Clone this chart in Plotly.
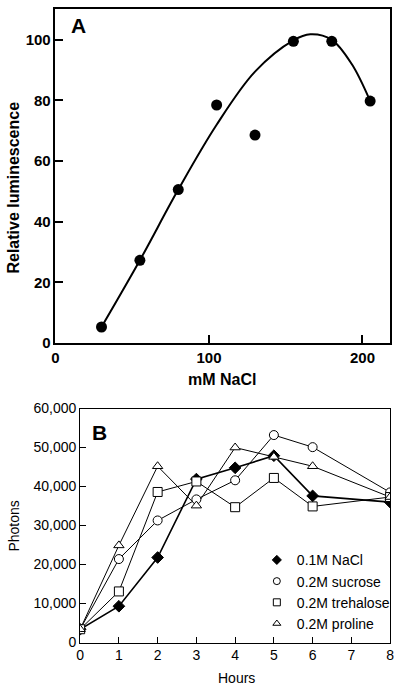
import plotly.graph_objects as go

# Panel A data
nacl_mm = [30, 55, 80, 105, 130, 155, 180, 205]
rel_lum = [5.3, 27.3, 50.6, 78.5, 68.6, 99.5, 99.5, 79.8]
fit_x = [30, 55, 80, 105, 130, 155, 166, 180, 193, 205]
fit_y = [5.3, 27.3, 50.6, 72, 89.5, 99.8, 101.8, 100, 92, 79.8]

# Panel B data
hours = [0, 1, 2, 3, 4, 5, 6, 8]
nacl = [3400, 9300, 21800, 41900, 44800, 47900, 37600, 36000]
sucrose = [3400, 21400, 31300, 36700, 41600, 53200, 50100, 38500]
trehalose = [3400, 13100, 38600, 41300, 34700, 42200, 34900, 37300]
proline = [3400, 24900, 45200, 35100, 50000, 47600, 45200, 37300]

a_xticks = [0, 100, 200]
a_yticks = [0, 20, 40, 60, 80, 100]
b_xticks = [0, 1, 2, 3, 4, 5, 6, 7, 8]
b_yticks = [0, 10000, 20000, 30000, 40000, 50000, 60000]

FONT = "Liberation Sans, Arial, Helvetica, sans-serif"
W, H = 400, 693

fig = go.Figure()

# Panel A
fig.add_trace(go.Scatter(x=fit_x, y=fit_y, mode="lines", line=dict(color="black", width=2, shape="spline", smoothing=1.0),
                         xaxis="x", yaxis="y", showlegend=False, hoverinfo="skip"))
fig.add_trace(go.Scatter(x=nacl_mm, y=rel_lum, mode="markers", marker=dict(color="black", size=11),
                         xaxis="x", yaxis="y", showlegend=False))

# Panel B
series = [
    ("0.1M NaCl", nacl, "diamond", "black"),
    ("0.2M sucrose", sucrose, "circle", "white"),
    ("0.2M trehalose", trehalose, "square", "white"),
    ("0.2M proline", proline, "triangle-up", "white"),
]
for name, vals, sym, fill in series:
    lw = 1.6 if name == "0.1M NaCl" else 1
    fig.add_trace(go.Scatter(x=hours, y=vals, mode="lines", line=dict(color="black", width=lw),
                             xaxis="x2", yaxis="y2", showlegend=False, hoverinfo="skip"))
for name, vals, sym, fill in series:
    fig.add_trace(go.Scatter(x=hours, y=vals, mode="markers", name=name,
                             marker=dict(symbol=sym, size=9, color=fill, line=dict(color="black", width=1)),
                             xaxis="x2", yaxis="y2", showlegend=False))
    fig.add_trace(go.Scatter(x=[None], y=[None], mode="markers", name=name,
                             marker=dict(symbol=sym, size=7, color=fill, line=dict(color="black", width=1)),
                             xaxis="x2", yaxis="y2", showlegend=True))

axA = dict(showgrid=False, zeroline=False, showline=True, linecolor="black", linewidth=1.5, mirror=True,
           ticks="inside", ticklen=8, tickwidth=1.5, tickcolor="black",
           tickfont=dict(family=FONT, size=15, color="black", weight="bold"))
axB = dict(showgrid=False, zeroline=False, showline=True, linecolor="black", linewidth=1, mirror=True,
           ticks="inside", ticklen=6, tickwidth=1, tickcolor="black",
           tickfont=dict(family=FONT, size=14, color="black"))

fig.update_layout(
    width=W, height=H, margin=dict(l=0, r=0, t=0, b=0),
    paper_bgcolor="white", plot_bgcolor="white",
    font=dict(family=FONT, color="black"),
    xaxis=dict(axA, domain=[52.5 / W, 394 / W], range=[0, 218], tickvals=a_xticks, anchor="y"),
    yaxis=dict(axA, domain=[1 - 343 / H, 1 - 1.5 / H], range=[0, 110], tickvals=a_yticks, anchor="x"),
    xaxis2=dict(axB, domain=[77.7 / W, 394 / W], range=[0, 8], tickvals=b_xticks, anchor="y2"),
    yaxis2=dict(axB, domain=[1 - 649.5 / H, 1 - 410 / H], range=[0, 60000], tickvals=b_yticks,
                tickformat=",d", anchor="x2"),
    legend=dict(x=258 / W, y=1 - 549 / H, xanchor="left", yanchor="top", bgcolor="rgba(0,0,0,0)",
                font=dict(family=FONT, size=14, color="black"), tracegroupgap=0, itemwidth=30),
    showlegend=True,
)

ann = [
    dict(text="<b>A</b>", x=76 / W, y=1 - 18 / H, font=dict(size=21)),
    dict(text="<b>B</b>", x=97 / W, y=1 - 435 / H, font=dict(size=21)),
    dict(text="<b>Relative luminescence</b>", x=10 / W, y=1 - 184 / H, font=dict(size=16), textangle=-90),
    dict(text="<b>mM NaCl</b>", x=222 / W, y=1 - 380 / H, font=dict(size=16)),
    dict(text="Photons", x=10 / W, y=1 - 530 / H, font=dict(size=14), textangle=-90),
    dict(text="Hours", x=237 / W, y=1 - 686 / H, font=dict(size=14)),
]
for a in ann:
    fig.add_annotation(xref="paper", yref="paper", showarrow=False, xanchor="center", yanchor="middle",
                       font=dict(family=FONT, color="black", size=a["font"]["size"]),
                       **{k: v for k, v in a.items() if k != "font"})

fig.write_html("out.html", config={"displayModeBar": False},
               post_script="document.body.style.margin='0';document.body.style.overflow='hidden';")
